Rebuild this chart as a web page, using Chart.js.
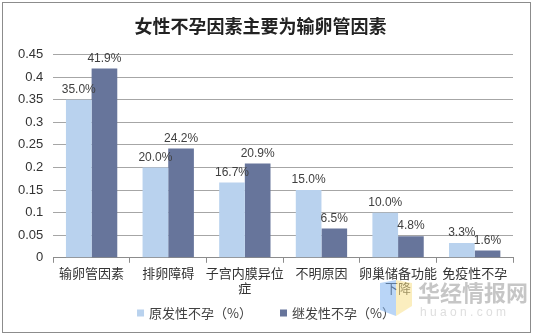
<!DOCTYPE html>
<html>
<head>
<meta charset="utf-8">
<script src="https://cdn.jsdelivr.net/npm/chart.js@4/dist/chart.umd.min.js"></script>
<style>
  html, body { margin: 0; padding: 0; background: #fff; }
  #wrap { width: 534px; height: 336px; }
</style>
</head>
<body>
<div id="wrap"><canvas id="chart" width="534" height="336"></canvas></div>
<script>
// ===== data =====
const categories = ['输卵管因素', '排卵障碍', ['子宫内膜异位', '症'], '不明原因', ['卵巢储备功能', '下降'], '免疫性不孕'];
const primaryRate = [0.35, 0.20, 0.167, 0.15, 0.10, 0.033];
const secondaryRate = [0.419, 0.242, 0.209, 0.065, 0.048, 0.016];
const seriesNames = ['原发性不孕（%）', '继发性不孕（%）'];
const titleText = '女性不孕因素主要为输卵管因素';

const FONT = '"Liberation Sans", "Noto Sans CJK SC", Arial, sans-serif';
const CJK = '"Noto Sans CJK SC", "Liberation Sans", sans-serif';

// white background + thin outer frame
const framePlugin = {
    id: 'frame',
    beforeDraw(chart) {
        const ctx = chart.ctx;
        ctx.save();
        ctx.fillStyle = '#fff';
        ctx.fillRect(0, 0, chart.width, chart.height);
        ctx.strokeStyle = '#8c8c8c';
        ctx.lineWidth = 1;
        ctx.strokeRect(2.5, 2.5, 528, 330);
        ctx.restore();
    }
};

// percentage text above every bar
const valueLabels = {
    id: 'valueLabels',
    afterDatasetsDraw(chart) {
        const ctx = chart.ctx;
        ctx.save();
        ctx.font = '12px ' + FONT;
        ctx.fillStyle = '#404040';
        ctx.textAlign = 'center';
        ctx.textBaseline = 'bottom';
        chart.data.datasets.forEach((ds, i) => {
            chart.getDatasetMeta(i).data.forEach((bar, j) => {
                ctx.fillText((ds.data[j] * 100).toFixed(1) + '%', bar.x, bar.y - 4);
            });
        });
        ctx.restore();
    }
};

// bottom legend: small squares, wide gap between the two entries
const bottomLegend = {
    id: 'bottomLegend',
    afterDraw(chart) {
        const ctx = chart.ctx;
        const box = 7, gap = 5, spacing = 28, cy = 313;
        ctx.save();
        ctx.font = '13px ' + CJK;
        ctx.textBaseline = 'middle';
        const items = chart.data.datasets.map(ds => ({
            color: ds.backgroundColor,
            text: ds.label,
            w: box + gap + ctx.measureText(ds.label).width
        }));
        const total = items.reduce((s, it) => s + it.w, 0) + spacing * (items.length - 1);
        let x = 266 - total / 2;
        items.forEach(it => {
            ctx.fillStyle = it.color;
            ctx.fillRect(x, cy - box / 2, box, box);
            ctx.fillStyle = '#404040';
            ctx.fillText(it.text, x + box + gap, cy);
            x += it.w + spacing;
        });
        ctx.restore();
    }
};

// site watermark in the lower right corner
const watermark = {
    id: 'watermark',
    afterDraw(chart) {
        const ctx = chart.ctx;
        ctx.save();
        ctx.globalAlpha = 0.55;
        ctx.fillStyle = '#7fb2f0';
        ctx.beginPath();
        ctx.moveTo(380, 283); ctx.lineTo(396, 280); ctx.lineTo(396, 316); ctx.lineTo(380, 310);
        ctx.closePath(); ctx.fill();
        ctx.fillStyle = '#f7e08a';
        ctx.beginPath();
        ctx.moveTo(396, 280); ctx.lineTo(412, 283); ctx.lineTo(412, 306); ctx.lineTo(396, 316);
        ctx.closePath(); ctx.fill();
        ctx.globalAlpha = 0.6;
        ctx.fillStyle = '#a0a0a0';
        ctx.font = 'bold 22px ' + CJK;
        ctx.textBaseline = 'middle';
        ctx.fillText('华经情报网', 418, 293);
        ctx.fillStyle = '#c8c8c8';
        ctx.font = '12px ' + FONT;
        ctx.fillText('h u a o n . c o m', 420, 313);
        ctx.restore();
    }
};

new Chart(document.getElementById('chart'), {
    type: 'bar',
    data: {
        labels: categories,
        datasets: [
            { label: seriesNames[0], data: primaryRate, backgroundColor: '#b9d2ee', barPercentage: 1, categoryPercentage: 0.67 },
            { label: seriesNames[1], data: secondaryRate, backgroundColor: '#67759b', barPercentage: 1, categoryPercentage: 0.67 }
        ]
    },
    options: {
        responsive: false,
        animation: false,
        layout: { padding: { left: 8, right: 21, top: 8, bottom: 38 } },
        plugins: {
            title: {
                display: true,
                text: titleText,
                color: '#222',
                font: { family: CJK, size: 18, weight: 'bold' },
                padding: { top: 7, bottom: 18 }
            },
            legend: { display: false },
            tooltip: { enabled: false }
        },
        scales: {
            x: {
                grid: { drawOnChartArea: false, drawTicks: true, tickLength: 5, color: '#8c8c8c', offset: true },
                border: { color: '#8c8c8c' },
                ticks: { color: '#333', font: { family: CJK, size: 13 }, padding: 2, maxRotation: 0, autoSkip: false }
            },
            y: {
                min: 0,
                max: 0.45,
                grid: { color: '#a6a6a6', drawTicks: false },
                border: { display: false },
                ticks: {
                    stepSize: 0.05,
                    color: '#333',
                    font: { family: FONT, size: 13 },
                    padding: 10,
                    callback: v => String(Number(v.toFixed(2)))
                }
            }
        }
    },
    plugins: [framePlugin, valueLabels, bottomLegend, watermark]
});
</script>
</body>
</html>
